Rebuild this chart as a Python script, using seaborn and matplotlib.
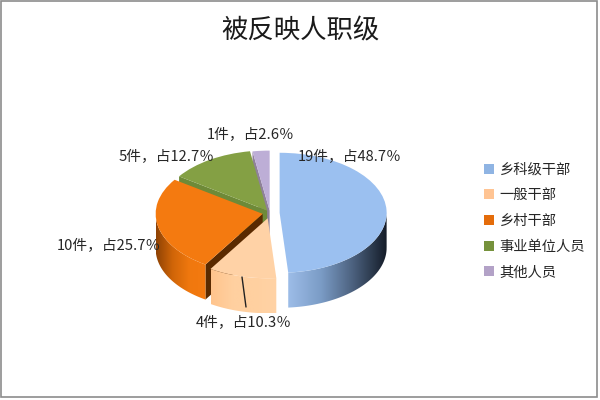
import numpy as np
import matplotlib
matplotlib.use("Agg")
import matplotlib.pyplot as plt
import seaborn as sns
from matplotlib.patches import Polygon, Patch
from matplotlib.lines import Line2D
from matplotlib.colors import LinearSegmentedColormap

categories = ["乡科级干部", "一般干部", "乡村干部", "事业单位人员", "其他人员"]
counts = [19, 4, 10, 5, 1]
shares = [48.7, 10.3, 25.7, 12.7, 2.6]
explode = [0.09, 0.09, 0.07, 0.05, 0.04]
face_colors = ["#9BC0F0", "#FFD2A6", "#F47A10", "#84A044", "#BDAED6"]
legend_colors = ["#8FB4E3", "#FFC493", "#E46C0A", "#76923C", "#B3A2C7"]
wall_colors = [None, None, "#5A2A00", "#6E8A38", "#8F8199"]
side_ramps = [["#9DBDE8", "#7B9CC6", "#4A5F7C", "#141C28"],
              ["#FFC48C", "#FFD0A0", "#FFD0A0", "#FFD3A6"],
              ["#8E4204", "#D06508", "#F0780E", "#F47A10"],
              ["#6E8A38", "#6E8A38"], ["#8F8199", "#8F8199"]]
label_pos = [(298, 157), (196, 323), (57, 246), (119, 157), (207, 135)]
title = "被反映人职级"

W, H = 600, 400
CX, CY, RX, RY, DEPTH = 270, 213, 107, 60, 35

sns.set_theme(style="white")
plt.rcParams["font.family"] = ["Noto Sans CJK SC", "DejaVu Sans"]
fig = plt.figure(figsize=(6, 4), dpi=100)
ax = fig.add_axes([0, 0, 1, 1])
wedges, _ = ax.pie(counts, explode=explode, colors=face_colors, startangle=90,
                   counterclock=False, wedgeprops={"linewidth": 0})
ax.set_aspect("auto")
xlim = (-CX / RX, (W - CX) / RX)
ylim = ((CY - H) / RY, CY / RY)
d = DEPTH / RY


def side_fill(w, ramp, zo):
    th = np.radians(np.linspace(w.theta1, w.theta2, 200))
    th = th[np.sin(th) < 0.02]
    if len(th) == 0:
        return
    cx, cy = w.center
    xs = cx + w.r * np.cos(th)
    ys = cy + w.r * np.sin(th)
    order = np.argsort(xs)
    xs, ys = xs[order], ys[order]
    poly = np.r_[np.c_[xs, ys], np.c_[xs, ys - d][::-1]]
    patch = Polygon(poly, closed=True, fc="none", ec="none", transform=ax.transData)
    ax.add_patch(patch)
    cmap = LinearSegmentedColormap.from_list("s", ramp)
    im = ax.imshow(np.linspace(0, 1, 256)[None, :], cmap=cmap, aspect="auto",
                   extent=(xs.min(), xs.max(), (ys - d).min(), ys.max()), zorder=zo)
    im.set_clip_path(patch)


def wall(w, color, zo):
    cx, cy = w.center
    a = np.radians(w.theta2)
    ex, ey = cx + w.r * np.cos(a), cy + w.r * np.sin(a)
    ax.add_patch(Polygon([(cx, cy), (ex, ey), (ex, ey - d), (cx, cy - d)], closed=True,
                         fc=color, ec="none", zorder=zo))


# paint from the back of the pie to the front
paint_order = [4, 3, 2, 1, 0]
for rank, i in enumerate(paint_order):
    z = 2 + rank * 3
    w = wedges[i]
    if wall_colors[i]:
        wall(w, wall_colors[i], z)
    side_fill(w, side_ramps[i], z + 1)
    w.set_zorder(z + 2)

ax.set_xlim(*xlim)
ax.set_ylim(*ylim)
ax.axis("off")


def fx(px):
    return px / W


def fy(py):
    return 1 - py / H


for c, s, (px, py) in zip(counts, shares, label_pos):
    fig.text(fx(px), fy(py), f"{c}件，占{s}％", fontsize=10.6, color="#262626",
             ha="left", va="center")

fig.add_artist(Line2D([fx(242), fx(246)], [fy(277), fy(307)], color="#222222", lw=1,
                      transform=fig.transFigure, zorder=30))

fig.text(fx(300), fy(31), title, fontsize=19, color="#1A1A1A", ha="center", va="center")

handles = [Patch(fc=c, ec="none") for c in legend_colors]
fig.legend(handles, categories, loc="center left", bbox_to_anchor=(fx(484), fy(221)),
           frameon=False, fontsize=10.3, handlelength=0.7, handleheight=0.7,
           handletextpad=0.4, labelspacing=0.82, borderpad=0, borderaxespad=0,
           labelcolor="#262626")

fig.add_artist(plt.Rectangle((fx(1), fy(397)), fx(596), 396 / H, fill=False, ec="#8C8C8C",
                             lw=1.2, transform=fig.transFigure))
fig.savefig("out.png", dpi=100)
